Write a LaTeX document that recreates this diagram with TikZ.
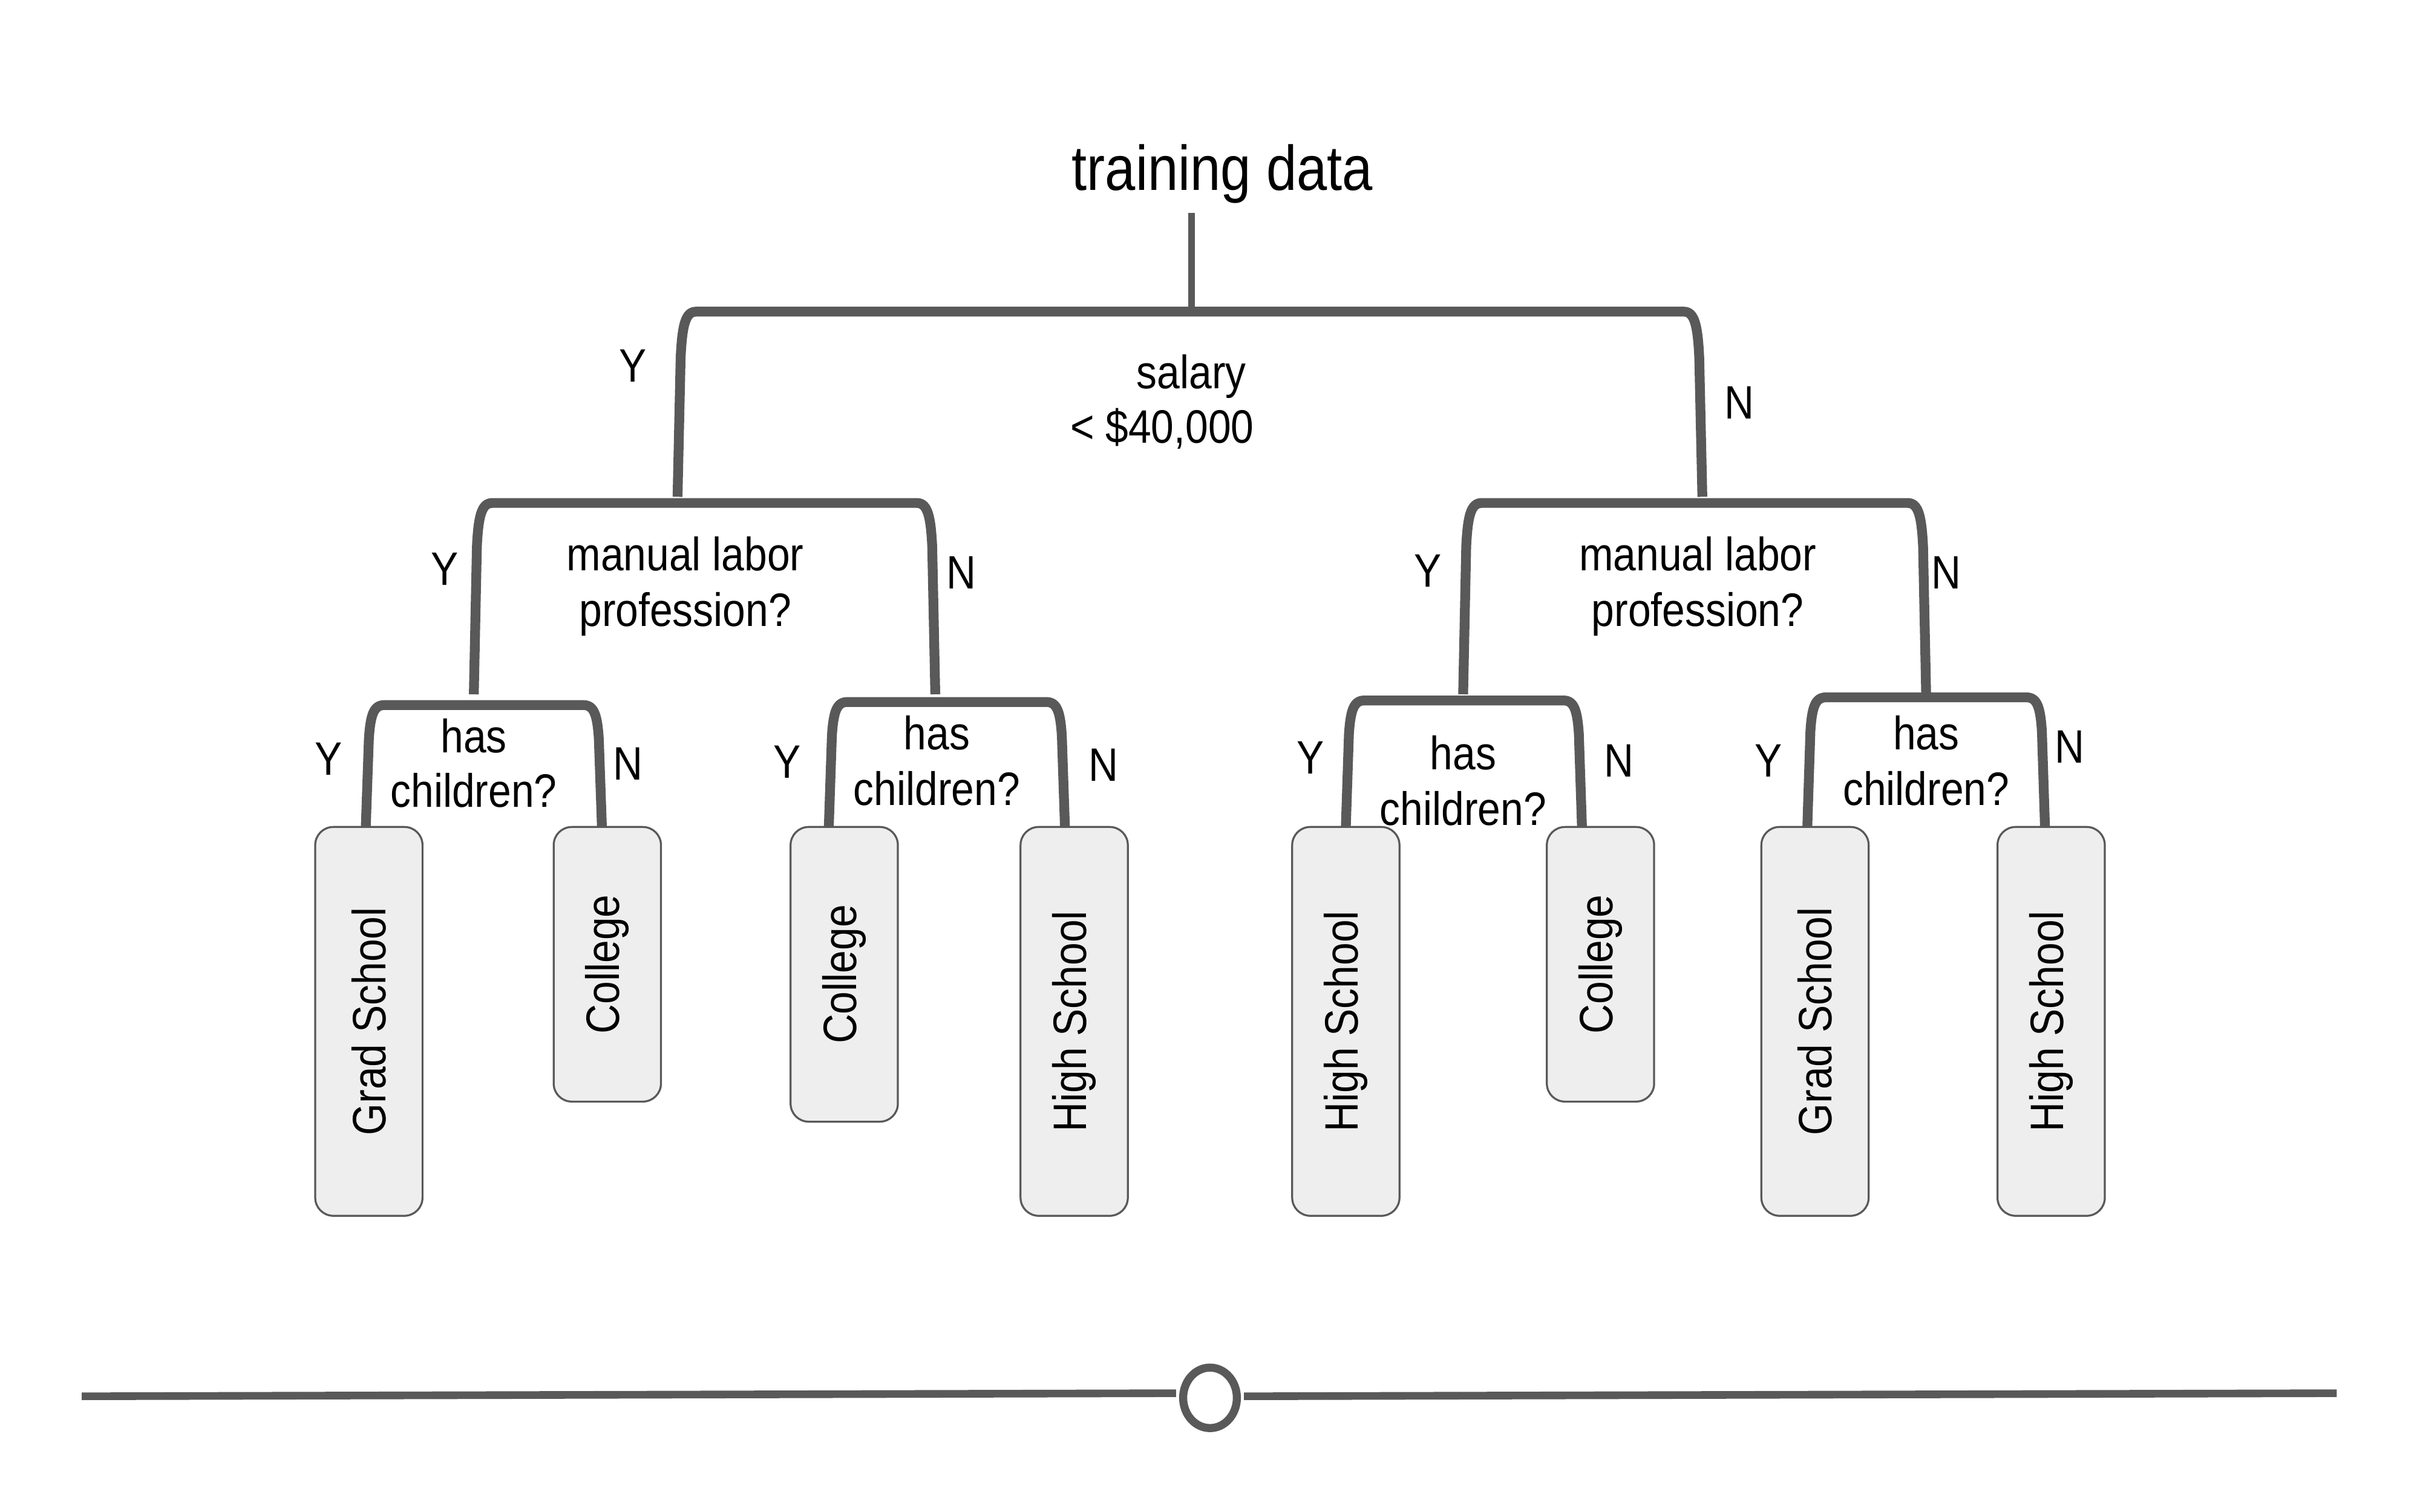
\documentclass[tikz,border=0pt]{standalone}
\usepackage{fontspec}
\setmainfont{Liberation Sans}[FakeStretch=0.875]
\newfontfamily\titlefont{Liberation Sans}[FakeStretch=0.865]
\usetikzlibrary{shapes.geometric}
\definecolor{ln}{HTML}{595959}
\definecolor{leaffill}{HTML}{EEEEEE}
\newcommand\brk[6]{% name xL xR yT yB h
  \coordinate (#1-l) at (#2,#5);
  \coordinate (#1-r) at (#3,#5);
  \draw[brkline] (#1-l) -- ({#2+2},{#4+#6})
     .. controls ({#2+3},{#4+0.3*#6}) and ({#2+5},#4) .. ({#2+12},#4)
     -- ({#3-12},#4)
     .. controls ({#3-5},#4) and ({#3-3},{#4+0.3*#6}) .. ({#3-2},{#4+#6})
     -- (#1-r);
}
\begin{document}
\begin{tikzpicture}[x=0.024872cm,y=-0.024872cm,
  brkline/.style={draw=ln,line width=4.5pt},
  stemline/.style={draw=ln,line width=3.2pt},
  baseline/.style={draw=ln,line width=3.5pt},
  leaf/.style={draw=ln,fill=leaffill,line width=0.9pt,rounded corners=8.3pt,rotate=90,
     minimum height=1.729cm,inner sep=0pt,font=\fontsize{21.5}{26}\selectfont},
  lbl/.style={font=\fontsize{21.5}{26}\selectfont,inner sep=0pt,anchor=base},
  yn/.style={font=\fontsize{21.5}{26}\selectfont,inner sep=0pt,anchor=center},
]
\useasboundingbox (0,0) rectangle (1568,980);

% title
\node[font=\titlefont\fontsize{29}{35}\selectfont,inner sep=0pt,anchor=base] (title) at (792,123.4) {training data};

% leaves
\node[leaf,minimum width=6.268cm] (l1) at (239,662) {Grad School};
\node[leaf,minimum width=4.427cm] (l2) at (393.5,625) {College};
\node[leaf,minimum width=4.751cm] (l3) at (547,631.5) {College};
\node[leaf,minimum width=6.268cm] (l4) at (696,662) {High School};
\node[leaf,minimum width=6.268cm] (l5) at (872,662) {High School};
\node[leaf,minimum width=4.427cm] (l6) at (1037,625) {College};
\node[leaf,minimum width=6.268cm] (l7) at (1176,662) {Grad School};
\node[leaf,minimum width=6.268cm] (l8) at (1329,662) {High School};

% stem
\coordinate (stemtop) at (772,138);
\coordinate (stembot) at (772,203);
\draw[stemline] (stemtop) -- (stembot);

% brackets
\brk{b0}{439}{1103}{202}{322}{30}
\brk{b1}{307}{606}{326}{450}{28}
\brk{b2}{948}{1248}{326}{450}{28}
\brk{b3}{237}{390}{457}{536}{22}
\brk{b4}{537}{690}{455}{536}{22}
\brk{b5}{872}{1025}{454}{536}{22}
\brk{b6}{1171}{1325}{452}{536}{22}

% question texts
\node[lbl] (q0a) at (772,252) {salary};
\node[lbl] (q0b) at (753,287) {< \$40,000};
\node[lbl] (q1a) at (444,370) {manual labor};
\node[lbl] (q1b) at (444,406) {profession?};
\node[lbl] (q2a) at (1100,370) {manual labor};
\node[lbl] (q2b) at (1100,406) {profession?};
\node[lbl] (q3a) at (307,488) {has};
\node[lbl] (q3b) at (307,523) {children?};
\node[lbl] (q4a) at (607,486) {has};
\node[lbl] (q4b) at (607,522) {children?};
\node[lbl] (q5a) at (948,499) {has};
\node[lbl] (q5b) at (948,535) {children?};
\node[lbl] (q6a) at (1248,486) {has};
\node[lbl] (q6b) at (1248,522) {children?};

% Y / N labels
\node[yn] (y0) at (410,237) {Y};
\node[yn] (n0) at (1127,261) {N};
\node[yn] (y1) at (288,369) {Y};
\node[yn] (n1) at (623,371) {N};
\node[yn] (y2) at (925,370) {Y};
\node[yn] (n2) at (1261,371) {N};
\node[yn] (y3) at (213,492) {Y};
\node[yn] (n3) at (407,495) {N};
\node[yn] (y4) at (510,494) {Y};
\node[yn] (n4) at (715,496) {N};
\node[yn] (y5) at (849,491) {Y};
\node[yn] (n5) at (1049,493) {N};
\node[yn] (y6) at (1146,493) {Y};
\node[yn] (n6) at (1341,484) {N};

% bottom slider
\node[ellipse,draw=ln,line width=3.7pt,minimum width=0.866cm,minimum height=0.975cm,inner sep=0pt] (knob) at (784,906) {};
\coordinate (bl0) at (53,905);
\coordinate (bl1) at (762,903);
\coordinate (br0) at (806,905);
\coordinate (br1) at (1514,903);
\draw[baseline] (bl0) -- (bl1);
\draw[baseline] (br0) -- (br1);
\end{tikzpicture}
\end{document}
